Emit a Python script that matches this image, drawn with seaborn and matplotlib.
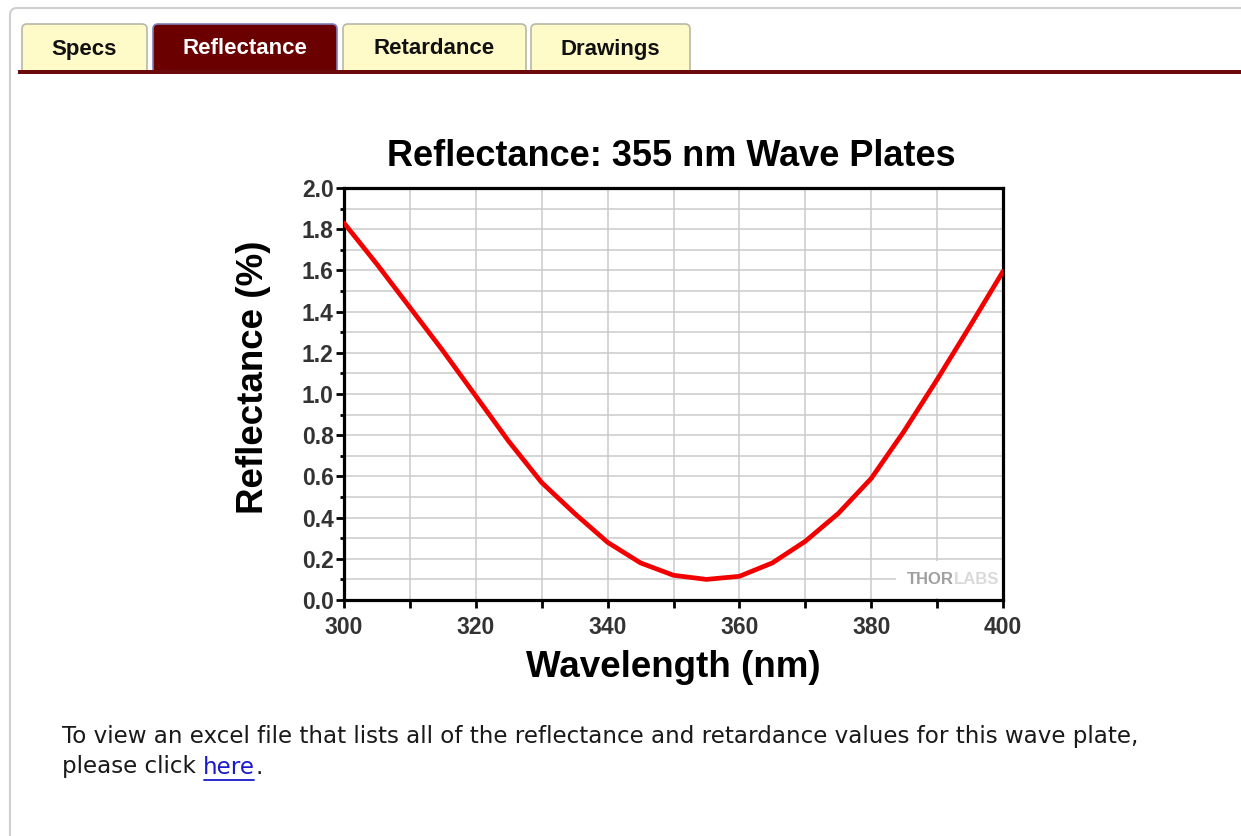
import numpy as np
import pandas as pd
import matplotlib
matplotlib.use("Agg")
import matplotlib.pyplot as plt
import seaborn as sns
from matplotlib.patches import FancyBboxPatch, Rectangle
from matplotlib.ticker import MultipleLocator

# Reflectance curve of the 355 nm wave plate
wavelength_nm = [300, 305, 310, 315, 320, 325, 330, 335, 340, 345, 350,
                 355, 360, 365, 370, 375, 380, 385, 390, 395, 400]
reflectance_pct = [1.83, 1.63, 1.42, 1.21, 0.99, 0.77, 0.57, 0.42, 0.28, 0.18, 0.12,
                   0.10, 0.115, 0.18, 0.285, 0.42, 0.59, 0.82, 1.07, 1.33, 1.595]

tab_labels = ["Specs", "Reflectance", "Retardance", "Drawings"]
active_tab = "Reflectance"
x_ticks = [300, 320, 340, 360, 380, 400]
y_ticks = [0.0, 0.2, 0.4, 0.6, 0.8, 1.0, 1.2, 1.4, 1.6, 1.8, 2.0]

df = pd.DataFrame({"Wavelength (nm)": wavelength_nm, "Reflectance (%)": reflectance_pct})

sns.set_theme(style="white")
plt.rcParams["font.family"] = ["Liberation Sans", "DejaVu Sans"]

W, H = 1241, 836
fig = plt.figure(figsize=(W / 100, H / 100), dpi=100)
fig.patch.set_facecolor("white")

# Page layer in pixel coordinates (y grows downwards)
page = fig.add_axes([0, 0, 1, 1], zorder=0)
page.set_xlim(0, W)
page.set_ylim(H, 0)
page.axis("off")

# Outer panel border with rounded top-left corner
page.add_patch(FancyBboxPatch((10, 8), W + 40, H + 40,
                              boxstyle="round,pad=0,rounding_size=7",
                              fc="none", ec="#cfcfcf", lw=1.5, clip_on=True))

# Tabs
tab_spans = [(22, 147), (153, 337), (343, 526), (531, 690)]
for label, (x0, x1) in zip(tab_labels, tab_spans):
    active = label == active_tab
    fc = "#6b0000" if active else "#fffbc9"
    ec = "#8080b8" if active else "#b8b8a8"
    page.add_patch(FancyBboxPatch((x0, 24), x1 - x0, 50,
                                  boxstyle="round,pad=0,rounding_size=5",
                                  fc=fc, ec=ec, lw=1.2))
    page.text((x0 + x1) / 2, 54.5, label, ha="center", va="baseline",
              fontsize=16, fontweight="bold",
              color="white" if active else "#111111")
page.add_patch(Rectangle((18, 70), W - 18, 3.5, fc="#6b0a0a", ec="none", zorder=3))
page.add_patch(Rectangle((18, 73.5), W - 18, 8, fc="white", ec="none", zorder=3))

# Note under the chart
note_font = ["DejaVu Sans"]
note_size = 16.6
page.text(62, 736, "To view an excel file that lists all of the reflectance and retardance "
          "values for this wave plate,", fontsize=note_size, family=note_font,
          color="#1a1a1a", va="center")
t1 = page.text(62, 767, "please click ", fontsize=note_size, family=note_font,
               color="#1a1a1a", va="center")
fig.canvas.draw()
x_here = page.transData.inverted().transform((t1.get_window_extent().x1, 0))[0]
t2 = page.text(x_here, 767, "here", fontsize=note_size, family=note_font,
               color="#1a1acc", va="center")
fig.canvas.draw()
bb2 = t2.get_window_extent()
x_end = page.transData.inverted().transform((bb2.x1, 0))[0]
page.plot([x_here + 1, x_end - 1], [780, 780], color="#1a1acc", lw=1.3)
page.text(x_end, 767, ".", fontsize=note_size, family=note_font,
          color="#1a1a1a", va="center")

# Chart
ax = fig.add_axes([344 / W, 1 - 600 / H, (1003 - 344) / W, (600 - 188) / H], zorder=2)
ax.set_facecolor("white")
sns.lineplot(data=df, x="Wavelength (nm)", y="Reflectance (%)", ax=ax,
             color="#f20000", lw=3.4, zorder=3)

ax.set_xlim(300, 400)
ax.set_ylim(0, 2.0)
ax.set_xticks(x_ticks)
ax.set_yticks(y_ticks)
ax.set_yticklabels([f"{v:.1f}" for v in y_ticks])
ax.xaxis.set_minor_locator(MultipleLocator(10))
ax.yaxis.set_minor_locator(MultipleLocator(0.1))
ax.grid(which="both", color="#cacaca", lw=1.1, zorder=0)
ax.set_axisbelow(True)

for s in ax.spines.values():
    s.set_color("black")
    s.set_linewidth(2.3)
ax.tick_params(axis="both", which="major", direction="out", length=5.5, width=2,
               color="black", labelsize=16.5, labelcolor="#333333")
ax.tick_params(axis="x", which="major", pad=6)
ax.tick_params(axis="y", which="major", pad=2)
ax.tick_params(axis="x", which="minor", direction="out", length=5.5, width=2, color="black")
ax.tick_params(axis="y", which="minor", direction="out", length=3, width=2, color="black")
ax.tick_params(left=True, bottom=True, which="both")
for lbl in ax.get_xticklabels() + ax.get_yticklabels():
    lbl.set_fontweight("bold")

ax.set_xlabel("")
ax.set_ylabel("")
ax.text(0.5, -0.187, "Wavelength (nm)", transform=ax.transAxes, ha="center",
        va="baseline", fontsize=26.5, fontweight="bold", color="black")
ax.text(-0.138, 0.54, "Reflectance (%)", transform=ax.transAxes, ha="center",
        va="center", rotation=90, fontsize=26.5, fontweight="bold", color="black")
ax.text(0.497, 1.053, "Reflectance: 355 nm Wave Plates", transform=ax.transAxes,
        ha="center", va="baseline", fontsize=26, fontweight="bold", color="black")

# Watermark on a white patch in the lower right corner
ax.add_patch(Rectangle((383.8, 0.012), 400 - 383.8, 0.175, fc="white", ec="none",
                       zorder=2))
wm_labs = ax.text(399.4, 0.1, "LABS", ha="right", va="center", fontsize=12,
                  fontweight="bold", color="#dadada", zorder=5)
fig.canvas.draw()
x_labs = ax.transData.inverted().transform((wm_labs.get_window_extent().x0, 0))[0]
ax.text(x_labs, 0.1, "THOR", ha="right", va="center", fontsize=12,
        fontweight="bold", color="#a0a0a0", zorder=5)

fig.savefig("out.png", dpi=100)
